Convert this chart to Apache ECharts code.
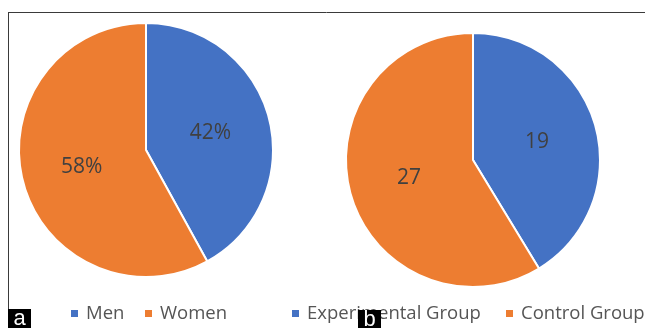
<!DOCTYPE html>
<html>
<head>
<meta charset="utf-8">
<script src="https://cdn.jsdelivr.net/npm/echarts@6/dist/echarts.min.js"></script>
<style>
  html, body { margin: 0; padding: 0; background: #fff; }
  #chart { width: 645px; height: 328px; }
</style>
</head>
<body>
<div id="chart"></div>
<script>
// Panel a: sex distribution (percent)
const sexCategories = ['Men', 'Women'];
const sexValues = [42, 58];

// Panel b: group sizes (counts)
const groupCategories = ['Experimental Group', 'Control Group'];
const groupValues = [19, 27];

const BLUE = '#4472C4';
const ORANGE = '#ED7D31';
const FONT = '"Open Sans", "Liberation Sans", sans-serif';

function toData(names, values) {
  return names.map((n, i) => ({ name: n, value: values[i] }));
}

function pieSeries(names, values, center, fmt) {
  return {
    type: 'pie',
    center: center,
    radius: 127,
    startAngle: 90,
    clockwise: true,
    animation: false,
    silent: true,
    itemStyle: { borderColor: '#fff', borderWidth: 2 },
    label: {
      show: true,
      position: 'inside',
      formatter: fmt,
      color: '#404040',
      fontSize: 21,
      fontFamily: FONT
    },
    labelLine: { show: false },
    data: toData(names, values)
  };
}

function legendItem(name, left) {
  return {
    data: [name],
    left: left,
    top: 304,
    padding: 0,
    icon: 'rect',
    itemWidth: 9,
    itemHeight: 9,
    itemGap: 0,
    selectedMode: false,
    textStyle: { color: '#555', fontSize: 18.5, fontFamily: FONT, padding: [0, 0, 0, 2] }
  };
}

// panel tags sit above everything else
const tagLayer = 5;

const chart = echarts.init(document.getElementById('chart'), null, { renderer: 'canvas' });
chart.setOption({
  backgroundColor: '#fff',
  color: [BLUE, ORANGE],
  legend: [
    legendItem(sexCategories[0], 69),
    legendItem(sexCategories[1], 143),
    legendItem(groupCategories[0], 290),
    legendItem(groupCategories[1], 504)
  ],
  series: [
    pieSeries(sexCategories, sexValues, [146, 150], '{c}%'),
    pieSeries(groupCategories, groupValues, [473, 160], '{c}')
  ],
  graphic: [
    { type: 'line', shape: { x1: 8, y1: 12.5, x2: 645, y2: 12.5 }, style: { stroke: '#3a3a3a', lineWidth: 1 } },
    { type: 'line', shape: { x1: 8.5, y1: 12, x2: 8.5, y2: 310 }, style: { stroke: '#3a3a3a', lineWidth: 1 } },
    { type: 'rect', zlevel: tagLayer, shape: { x: 8, y: 309, width: 23, height: 19 }, style: { fill: '#000' } },
    { type: 'text', zlevel: tagLayer, z: 1, x: 19.5, y: 319, style: { text: 'a', fill: '#fff', font: '22px "Liberation Sans", Arial, sans-serif', align: 'center', verticalAlign: 'middle' } },
    { type: 'rect', zlevel: tagLayer, shape: { x: 358, y: 310, width: 23, height: 18 }, style: { fill: '#000' } },
    { type: 'text', zlevel: tagLayer, z: 1, x: 369.5, y: 320, style: { text: 'b', fill: '#fff', font: '22px "Liberation Sans", Arial, sans-serif', align: 'center', verticalAlign: 'middle' } }
  ]
});
</script>
</body>
</html>
